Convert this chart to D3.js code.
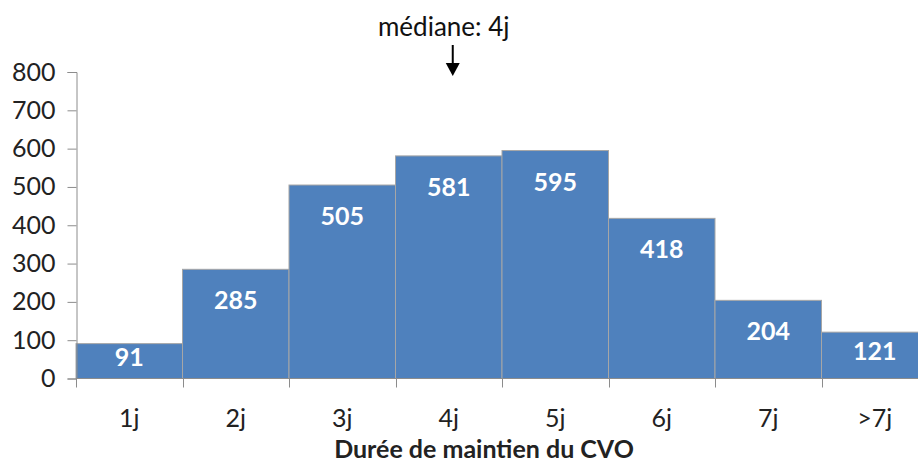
<!DOCTYPE html>
<html lang="fr">
<head>
    <meta charset="utf-8" />
    <title>Durée de maintien du CVO</title>
    <script src="https://d3js.org/d3.v7.min.js"></script>
    <style>
        body {
            margin: 0;
            padding: 0;
            background: #fff;
        }
        svg text {
            font-family: Lato, "Open Sans", sans-serif;
        }
    </style>
</head>
<body>
<svg id="chart"></svg>
<script>
    var w = 918;
    var h = 463;

    // Data
    var categories = ["1j", "2j", "3j", "4j", "5j", "6j", "7j", ">7j"];
    var values = [91, 285, 505, 581, 595, 418, 204, 121];
    var yTicks = [0, 100, 200, 300, 400, 500, 600, 700, 800];
    var medianCategory = "4j";

    var margin = {left: 76, top: 72, bottom: 84};

    var svg = d3.select("#chart")
                .attr("width", w)
                .attr("height", h);

    // Band scale without padding, plot runs a bit past the right edge
    var xScale = d3.scaleBand()
                .domain(categories)
                .range([margin.left, 928])
                .padding(0);

    var yScale = d3.scaleLinear()
                .domain([0, 800])
                .range([h - margin.bottom - 0.5, margin.top]);

    // Bars
    svg.selectAll("rect.bar")
        .data(values)
        .enter().append("rect")
        .attr("class", "bar")
        .attr("x", function(d, i) { return xScale(categories[i]); })
        .attr("y", function(d) { return yScale(d); })
        .attr("width", xScale.bandwidth())
        .attr("height", function(d) { return yScale(0) - yScale(d); })
        .attr("fill", "#4f81bd")
        .attr("stroke", "#a6a6a6")
        .attr("stroke-width", 1);

    // Value labels inside the bars
    svg.selectAll("text.val")
        .data(values)
        .enter().append("text")
        .attr("class", "val")
        .text(function(d) { return d; })
        .attr("x", function(d, i) { return xScale(categories[i]) + xScale.bandwidth() / 2; })
        .attr("y", function(d) {
            var top = yScale(d), bottom = yScale(0);
            return Math.min(top + 31, (top + bottom) / 2 - 4);
        })
        .attr("dy", "0.36em")
        .attr("text-anchor", "middle")
        .attr("font-size", "25px")
        .attr("font-weight", "bold")
        .attr("fill", "white");

    // Y axis
    var yAxis = d3.axisLeft(yScale)
                .tickValues(yTicks)
                .tickSize(9)
                .tickPadding(12);
    var gy = svg.append("g")
        .attr("transform", "translate(" + (margin.left + 0.5) + ",0)")
        .call(yAxis);
    gy.select(".domain").attr("stroke", "#8c8c8c");
    gy.selectAll(".tick line").attr("stroke", "#8c8c8c");
    gy.selectAll(".tick text")
        .attr("font-size", "25px")
        .attr("fill", "#222");

    // X axis: ticks at band boundaries
    var gx = svg.append("g")
        .attr("transform", "translate(0," + yScale(0) + ")");
    gx.append("line")
        .attr("x1", margin.left)
        .attr("x2", w)
        .attr("stroke", "#8c8c8c");
    gx.selectAll("line.tk")
        .data(categories)
        .enter().append("line")
        .attr("class", "tk")
        .attr("x1", function(d) { return Math.round(xScale(d)) + 0.5; })
        .attr("x2", function(d) { return Math.round(xScale(d)) + 0.5; })
        .attr("y1", 0)
        .attr("y2", 9)
        .attr("stroke", "#8c8c8c");
    gx.selectAll("text")
        .data(categories)
        .enter().append("text")
        .text(function(d) { return d; })
        .attr("x", function(d) { return xScale(d) + xScale.bandwidth() / 2; })
        .attr("y", 39)
        .attr("dy", "0.36em")
        .attr("text-anchor", "middle")
        .attr("font-size", "25px")
        .attr("fill", "#222");

    // Axis title
    svg.append("text")
        .text("Durée de maintien du CVO")
        .attr("x", 484)
        .attr("y", 449)
        .attr("text-anchor", "middle")
        .attr("dy", "0.36em")
        .attr("font-size", "25px")
        .attr("font-weight", "bold")
        .attr("fill", "#222");

    // Median annotation
    var mx = xScale(medianCategory) + xScale.bandwidth() / 2;
    svg.append("text")
        .text("médiane: 4j")
        .attr("x", mx - 5)
        .attr("y", 27)
        .attr("dy", "0.36em")
        .attr("text-anchor", "middle")
        .attr("font-size", "26px")
        .attr("fill", "#111");
    svg.append("line")
        .attr("x1", mx + 4)
        .attr("x2", mx + 4)
        .attr("y1", 45)
        .attr("y2", 66)
        .attr("stroke", "black")
        .attr("stroke-width", 2);
    svg.append("path")
        .attr("d", d3.line()([[mx - 3, 63], [mx + 11, 63], [mx + 4, 76]]) + "Z")
        .attr("fill", "black");
</script>
</body>
</html>
